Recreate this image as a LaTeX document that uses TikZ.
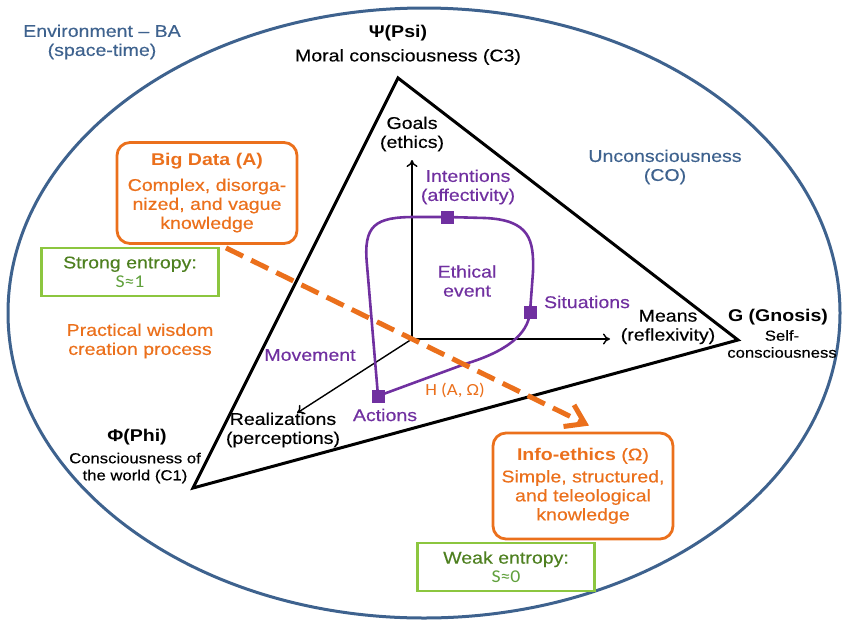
\documentclass[tikz,border=0pt]{standalone}
\usepackage{fontspec}
\setmainfont{Liberation Sans}[FakeStretch=1.15, UprightFeatures={FakeBold=0.4}]
\newfontfamily\calfont{Carlito}[FakeStretch=1.1]
\usetikzlibrary{positioning,arrows.meta}

\definecolor{envblue}{RGB}{62,98,142}
\definecolor{orng}{RGB}{235,112,28}
\definecolor{grnline}{RGB}{140,198,63}
\definecolor{grntext}{RGB}{78,128,32}
\definecolor{grnlight}{RGB}{96,160,60}
\definecolor{purp}{RGB}{112,48,160}

\begin{document}
\begin{tikzpicture}[x=1pt,y=-1pt,
    every node/.style={font=\fontsize{17}{19}\selectfont, align=center, inner sep=0pt},
    small/.style={font=\fontsize{14.5}{17}\selectfont},
    ttl/.style={font=\fontsize{17}{19}\selectfont\bfseries},
    env/.style={text=envblue},
    evt/.style={text=purp},
    knowbox/.style={draw=orng, line width=2.8pt, rounded corners=13pt, text=orng, minimum width=180pt},
    entbox/.style={draw=grnline, line width=2.4pt, text=grntext, minimum width=177pt, minimum height=48pt},
    axis/.style={-{To[length=7pt,width=11pt]}, line width=1.4pt},
    evpath/.style={purp, line width=2.6pt},
    sq/.style={fill=purp, minimum size=13pt},
    flow/.style={orng, line width=5pt, dash pattern=on 19pt off 9pt,
      -{Straight Barb[length=18pt,width=24pt]}},
  ]
  \useasboundingbox (0,0) rectangle (843,622);

  % environment
  \draw[envblue, line width=3pt] (424,313) ellipse [x radius=416, y radius=305];
  \node[env] (envlbl) at (102,42) {Environment -- BA\\(space-time)};
  \node[env] (uncon) at (665,167) {Unconsciousness\\(CO)};

  % triangle
  \coordinate (psi) at (398,78);
  \coordinate (gn) at (738,340);
  \coordinate (phi) at (193,488);
  \draw[line width=3pt] (psi) -- (gn) -- (phi) -- cycle;

  \node[ttl] (psilbl) at (398,33) {Ψ(Psi)};
  \node (moral) at (408,57) {Moral consciousness (C3)};
  \node[ttl] (gnlbl) at (778,317) {G (Gnosis)};
  \node[small] (self) at (782,344) {Self-\\consciousness};
  \node[ttl] (philbl) at (137,437) {Φ(Phi)};
  \node[small] (world) at (135,468) {Consciousness of\\the world (C1)};

  % axes
  \coordinate (o) at (412,339);
  \coordinate (up) at (412,160);
  \coordinate (rt) at (610,339);
  \coordinate (dl) at (297,413);
  \draw[axis] (o) -- (up);
  \draw[axis] (o) -- (rt);
  \draw[axis] (o) -- (dl);
  \node (goals) at (412,134) {Goals\\(ethics)};
  \node (means) at (668,327) {Means\\(reflexivity)};
  \node (real) at (283,430) {Realizations\\(perceptions)};

  % ethical event
  \coordinate (actp) at (378,396);
  \coordinate (intp) at (447,217);
  \coordinate (sitp) at (530,312);
  \draw[evpath] (actp) -- (367,265) .. controls (363,225) and (375,217) .. (415,217) -- (intp)
    -- (485,218) .. controls (530,220) and (534,240) .. (533,272) -- (sitp)
    .. controls (528,335) and (505,352) .. (465,364) -- cycle;

  \node[evt] (intlbl) at (468,187) {Intentions\\(affectivity)};
  \node[evt] (ethev) at (467,281) {Ethical\\event};
  \node[evt] (sitlbl) at (587,302) {Situations};
  \node[evt] (actlbl) at (385,415) {Actions};
  \node[evt] (mov) at (310,355) {Movement};
  \node[text=orng, font=\fontsize{17}{19}\calfont] (hlbl) at (455,390) {H (A, Ω)};

  % knowledge
  \node[knowbox, minimum height=101pt] (bigdata) at (207,193)
    {\textbf{Big Data (A)}\\[6pt]Complex, disorga-\\nized, and vague\\knowledge};
  \node[knowbox, minimum height=106pt] (infoeth) at (583,486)
    {\textbf{Info-ethics} (Ω)\\[3pt]Simple, structured,\\and teleological\\knowledge};
  \node[entbox] (strong) at (130,272) {Strong entropy:\\{\fontsize{18}{19}\calfont\color{grnlight}S≈1}};
  \node[entbox] (weak) at (506,567) {Weak entropy:\\{\fontsize{18}{19}\calfont\color{grnlight}S≈0}};
  \node[text=orng] (wisdom) at (140,341) {Practical wisdom\\creation process};

  \draw[flow] ([xshift=19pt,yshift=-3pt]bigdata.south) -- ([xshift=6pt,yshift=6pt]infoeth.north);

  \node[sq] (act) at (actp) {};
  \node[sq] (int) at (intp) {};
  \node[sq] (sit) at (sitp) {};
\end{tikzpicture}
\end{document}
